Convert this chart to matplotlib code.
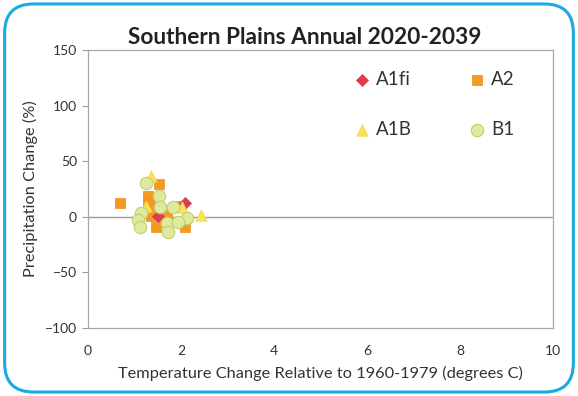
import matplotlib
matplotlib.use("Agg")
import matplotlib.pyplot as plt
from matplotlib.patches import FancyBboxPatch

plt.rcParams['font.family'] = ['Lato', 'DejaVu Sans']

# Scenario projections: temperature change (deg C) and precipitation change (%)
a1fi_temp = [2.09, 1.50]
a1fi_precip = [12.3, 0.3]

a2_temp = [0.69, 1.53, 1.30, 1.29, 1.33, 1.94, 1.47, 2.08, 1.69, 1.36, 1.59]
a2_precip = [12.0, 29.5, 18.4, 12.3, 10.5, 9.3, -8.8, -8.8, 1.7, 0.3, -4.3]

a1b_temp = [1.35, 1.25, 2.02, 2.44]
a1b_precip = [36.5, 9.3, 8.4, 1.7]

b1_temp = [1.25, 1.53, 1.54, 1.83, 2.12, 1.13, 1.07, 1.11, 1.71, 1.72, 1.94]
b1_precip = [30.4, 18.4, 8.4, 8.4, -1.3, 3.3, -2.8, -8.8, -5.8, -14.0, -4.3]

x_ticks = [0, 2, 4, 6, 8, 10]
y_ticks = [-100, -50, 0, 50, 100, 150]

fig = plt.figure(figsize=(5.78, 3.96), dpi=100)
fig.patch.set_facecolor('white')

# Rounded blue frame around the panel
frame = FancyBboxPatch((0.008, 0.010), 0.984, 0.980,
                       boxstyle="round,pad=0,rounding_size=0.05",
                       transform=fig.transFigure, facecolor='none',
                       edgecolor='#19a9e3', linewidth=2.2, mutation_aspect=578/396)
fig.patches.append(frame)

ax = fig.add_axes([0.1522, 0.1717, 0.8045, 0.7020])

ax.scatter(a2_temp, a2_precip, marker='s', s=50, color='#f39a24',
           edgecolors='#f08a1c', linewidths=0.5, label='A2', zorder=3)
ax.scatter(a1fi_temp, a1fi_precip, marker='D', s=38, color='#d8404f',
           edgecolors='#d8404f', linewidths=0.5, label='A1fi', zorder=3)
ax.scatter(a1b_temp, a1b_precip, marker='^', s=68, color='#f7e25a',
           edgecolors='#f0d84a', linewidths=0.5, label='A1B', zorder=3)
ax.scatter(b1_temp, b1_precip, marker='o', s=80, color='#e0ea9c',
           edgecolors='#c3cf72', linewidths=0.8, label='B1', zorder=4)

ax.axhline(0, color='#9a9a9a', linewidth=1.0, zorder=2)

ax.set_xlim(0, 10)
ax.set_ylim(-100, 150)
ax.set_xticks(x_ticks)
ax.set_yticks(y_ticks)
ax.tick_params(axis='x', length=0, pad=12, labelsize=10, labelcolor='#333333')
ax.tick_params(axis='y', length=4, width=0.8, color='#9a9a9a', pad=4,
               labelsize=10, labelcolor='#333333')
for side in ['left', 'right', 'top', 'bottom']:
    ax.spines[side].set_color('#a8a8a8')
    ax.spines[side].set_linewidth(0.9)

ax.set_xlabel('Temperature Change Relative to 1960-1979 (degrees C)',
              fontsize=11.8, color='#333333', labelpad=7)
ax.set_ylabel('Precipitation Change (%)', fontsize=11.8, color='#333333', labelpad=5)
ax.set_title('Southern Plains Annual 2020-2039', fontsize=16.3, fontweight='bold',
             color='#222222', pad=4, x=0.465)

handles, labels = ax.get_legend_handles_labels()
order = ['A1fi', 'A1B', 'A2', 'B1']
hmap = dict(zip(labels, handles))
ax.legend([hmap[k] for k in order], order, ncol=2, loc='upper right',
          bbox_to_anchor=(0.954, 0.985), frameon=False, fontsize=13.5,
          labelcolor='#333333', columnspacing=2.85, labelspacing=1.75,
          handletextpad=0.15, handlelength=1.2)

fig.savefig('out.png', dpi=100, facecolor='white')
